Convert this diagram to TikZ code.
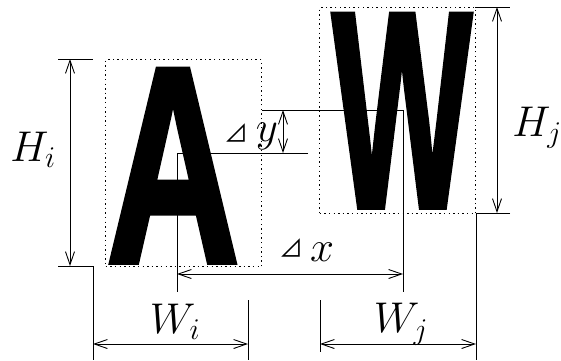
\RequirePackage{fix-cm}
\documentclass[tikz,border=0pt]{standalone}
\usepackage{fontspec}
\newfontfamily\glyphfont[FakeBold=2]{Liberation Sans Bold}
\newfontfamily\cjk{Noto Sans CJK JP}
\usetikzlibrary{arrows.meta}
\tikzset{
  dotbox/.style={draw, line width=1.4pt, dash pattern=on 1.4pt off 3.2pt, inner sep=0pt, anchor=north west},
  bigglyph/.style={font=\glyphfont\fontsize{280}{280}\selectfont, inner sep=0pt, anchor=base},
  dimline/.style={line width=0.9pt},
  dimarr/.style={{Straight Barb[length=13pt,width=9pt]}-{Straight Barb[length=13pt,width=9pt]}, line width=0.9pt},
  lbl/.style={font=\fontsize{43}{43}\selectfont, inner sep=0pt},
  tri/.style={font=\cjk\fontsize{24}{24}\selectfont, inner sep=0pt},
}
\begin{document}
\begin{tikzpicture}[x=1pt,y=-1pt]
\useasboundingbox (0,0) rectangle (561,360);
% ================= glyph boxes =================
\node[dotbox, minimum width=156pt, minimum height=207pt] (boxA) at (105,59) {};
\node[dotbox, minimum width=156pt, minimum height=206pt] (boxW) at (319,7) {};
\node[bigglyph] (glA) at (173,262) {\scalebox{0.66}[1]{A}};
\node[bigglyph] (glW) at (402,207) {\scalebox{0.53}[1]{W}};
% ================= heights =================
\coordinate (hiT0) at (58,59); \coordinate (hiT1) at (93,59);
\coordinate (hiB0) at (58,266); \coordinate (hiB1) at (93,266); \coordinate (hiB2) at (93,360);
\draw[dimline] (hiT0) -- (hiT1); \draw[dimline] (hiB0) -- (hiB1) -- (hiB2);
\coordinate (hiA) at (70,59); \coordinate (hiZ) at (70,266);
\draw[dimarr] (hiA) -- (hiZ);
\node[lbl] (Hi) at (33,150) {$H_i$};
\coordinate (hjT0) at (475,7); \coordinate (hjT1) at (510,7);
\coordinate (hjB0) at (510,213); \coordinate (hjB1) at (476,213); \coordinate (hjB2) at (476,360);
\draw[dimline] (hjT0) -- (hjT1); \draw[dimline] (hjB0) -- (hjB1) -- (hjB2);
\coordinate (hjA) at (497,7); \coordinate (hjZ) at (497,213);
\draw[dimarr] (hjA) -- (hjZ);
\node[lbl] (Hj) at (537,128) {$H_j$};
% ================= centre lines and offsets =================
\coordinate (cA0) at (308,153); \coordinate (cA) at (177,153); \coordinate (cA1) at (177,292);
\coordinate (cW0) at (262,110); \coordinate (cW) at (403,110); \coordinate (cW1) at (403,292);
\draw[dimline] (cA0) -- (cA) -- (cA1);
\draw[dimline] (cW0) -- (cW) -- (cW1);
\coordinate (dyA) at (283,110); \coordinate (dyZ) at (283,153);
\draw[dimarr] (dyA) -- (dyZ);
\node[tri] (dyT) at (236,133) {⊿}; \node[lbl] (dyL) at (267,136) {$y$};
\coordinate (dxA) at (177,274); \coordinate (dxZ) at (403,274);
\draw[dimarr] (dxA) -- (dxZ);
\node[tri] (dxT) at (291,248) {⊿}; \node[lbl] (dxL) at (322,252) {$x$};
% ================= widths =================
\coordinate (wi0) at (248,300); \coordinate (wi1) at (248,360);
\draw[dimline] (wi0) -- (wi1);
\coordinate (wiA) at (93,344); \coordinate (wiZ) at (248,344);
\draw[dimarr] (wiA) -- (wiZ);
\node[lbl] (Wi) at (175,322) {$W_i$};
\coordinate (wj0) at (320,300); \coordinate (wj1) at (320,352);
\draw[dimline] (wj0) -- (wj1);
\coordinate (wjA) at (320,344); \coordinate (wjZ) at (476,344);
\draw[dimarr] (wjA) -- (wjZ);
\node[lbl] (Wj) at (401,324) {$W_j$};
\end{tikzpicture}
\end{document}
